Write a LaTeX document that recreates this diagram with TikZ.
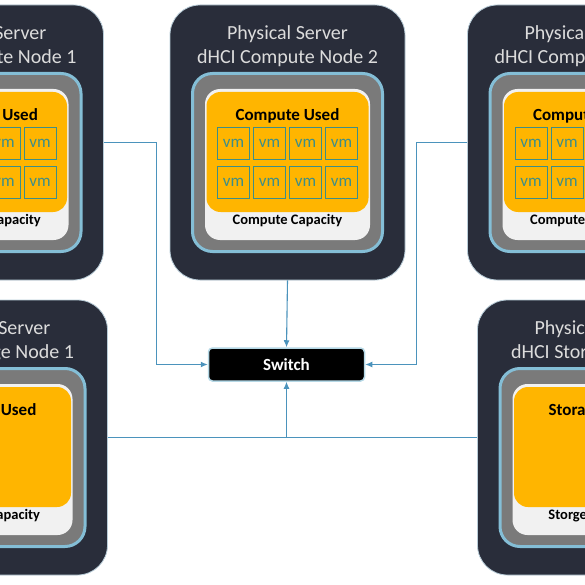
\documentclass[tikz,border=0pt]{standalone}
\usepackage{fontspec}
\setmainfont{Carlito}
\usepackage{xcolor}
\usetikzlibrary{positioning,arrows.meta,calc}

\definecolor{srvdark}{HTML}{292D3A}
\definecolor{srvedge}{HTML}{B8CCD8}
\definecolor{srvtext}{HTML}{DCDCDC}
\definecolor{framegray}{HTML}{7A7A7A}
\definecolor{frameblue}{HTML}{84BED6}
\definecolor{panelwhite}{HTML}{F1F1F1}
\definecolor{usedorange}{HTML}{FFB500}
\definecolor{vmteal}{HTML}{3E8E88}
\definecolor{linkblue}{HTML}{4B93BC}

\begin{document}
\begin{tikzpicture}[x=1pt, y=-1pt,
    srvbox/.style={rectangle, draw=srvedge, line width=0.8pt, fill=srvdark, rounded corners=30pt, minimum width=235pt, minimum height=275pt, inner sep=0pt},
    framebox/.style={rectangle, draw=frameblue, line width=3pt, fill=framegray, rounded corners=20pt, minimum width=190pt, minimum height=178pt, inner sep=0pt},
    panelbox/.style={rectangle, fill=panelwhite, rounded corners=15pt, minimum width=165pt, minimum height=151pt, inner sep=0pt},
    usedbox/.style={rectangle, fill=usedorange, rounded corners=14pt, minimum width=162pt, minimum height=120pt, inner sep=0pt},
    vmbox/.style={rectangle, draw=vmteal, line width=1pt, fill=usedorange, minimum width=32pt, minimum height=32pt, inner sep=0pt, text=vmteal, font=\fontsize{17}{19}\selectfont},
    titletext/.style={text=srvtext, font=\fontsize{20}{24}\selectfont, inner sep=0pt},
    usedtext/.style={font=\bfseries\fontsize{17}{20}\selectfont, inner sep=0pt},
    captext/.style={font=\bfseries\fontsize{14.5}{17}\selectfont, inner sep=0pt},
    link/.style={draw=linkblue, line width=1.1pt},
    arr/.style={-{Latex[length=7pt,width=6pt]}}]

  \useasboundingbox (0,0) rectangle (585,585);
  \fill[white] (0,0) rectangle (585,585);
  \clip (0,0) rectangle (585,585);

  % Server boxes (name / centre x / top y / title / used / capacity)
  \foreach \nm/\cx/\ty/\lineA/\lineB/\used/\capa in {
      cn1/-14/5/Physical Server/dHCI Compute Node 1/Compute Used/Compute Capacity,
      cn2/287.5/5/Physical Server/dHCI Compute Node 2/Compute Used/Compute Capacity,
      cn3/585/5/Physical Server/dHCI Compute Node 3/Compute Used/Compute Capacity,
      sn1/-10/300/Physical Server/dHCI Storage Node 1/Storage Used/Storage Capacity,
      sn2/595/300/Physical Server/dHCI Storage Node 2/Storage Used/Storge Capacity} {
    \node[srvbox] (\nm) at (\cx,\ty+137.5) {};
    \node[titletext] (\nm-t1) at (\cx,\ty+29) {\lineA};
    \node[titletext] (\nm-t2) at (\cx,\ty+53) {\lineB};
    \node[framebox] (\nm-frame) at (\cx,\ty+157.5) {};
    \node[panelbox] (\nm-panel) at (\cx,\ty+159.5) {};
    \node[usedbox] (\nm-used) at (\cx,\ty+147) {};
    \node[usedtext] (\nm-ut) at (\cx,\ty+110.5) {\used};
    \node[captext] (\nm-ct) at (\cx,\ty+216) {\capa};
  }

  % vm grids on the compute nodes
  \foreach \c/\cx in {1/-14, 2/287.5, 3/585} {
    \foreach \dx/\dy [count=\i] in {-54/138.5, -18/138.5, 18/138.5, 54/138.5, -54/177.5, -18/177.5, 18/177.5, 54/177.5} {
      \node[vmbox] (vm\c-\i) at (\cx+\dx,5+\dy) {vm};
    }
  }

  % Switch
  \node[rectangle, fill=black, draw=frameblue!60, line width=1.5pt, rounded corners=4pt, minimum width=156pt, minimum height=33pt, text=white, font=\bfseries\fontsize{17}{20}\selectfont] (switch) at (286.5,364.5) {Switch};

  % Links to the switch
  \draw[link, arr] (cn2.south) -- (switch.north);
  \draw[link, arr] (cn1.east) -- ++(53,0) |- (switch.west);
  \draw[link, arr] (cn3.west) -- ++(-51,0) |- (switch.east);
  \coordinate (busjoin) at (switch.south |- sn1.east);
  \draw[link] (sn1.east) -- (sn2.west);
  \draw[link, arr] (busjoin) -- (switch.south);
\end{tikzpicture}
\end{document}
